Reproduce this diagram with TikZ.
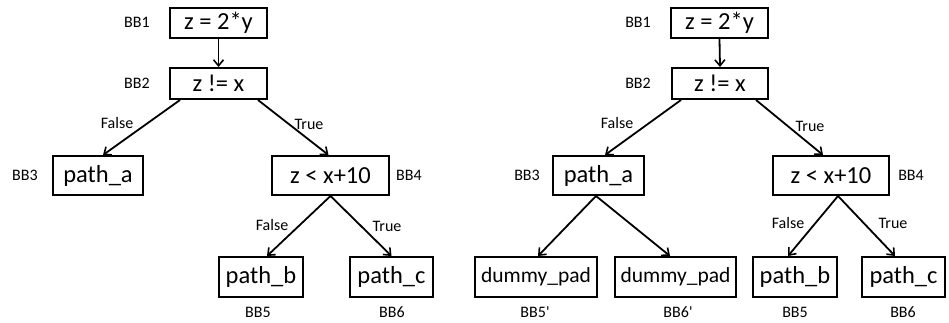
\documentclass[tikz,border=0pt]{standalone}
\usepackage{fontspec}
\setmainfont{Carlito}[Ligatures=TeXOff]
\usetikzlibrary{arrows.meta}
\begin{document}
\begin{tikzpicture}[x=1pt,y=-1pt,
  blk/.style={draw,line width=2pt,inner sep=0pt,font=\fontsize{24.5}{26}\selectfont},
  dblk/.style={blk,font=\fontsize{21.5}{24}\selectfont},
  bb/.style={font=\fontsize{16}{18}\selectfont,inner sep=0pt},
  lbl/.style={font=\fontsize{16}{18}\selectfont,inner sep=0pt},
  arr/.style={line width=1.8pt,-{Straight Barb[length=6pt,width=10pt,line width=1.6pt]}}]
\useasboundingbox (0,0) rectangle (949,322);
% ---------- left tree ----------
\node[blk,minimum width=97pt,minimum height=30pt] (L1) at (218.5,23) {z = 2*y};
\node[blk,minimum width=97pt,minimum height=31pt] (L2) at (218.5,83.5) {z != x};
\node[blk,minimum width=90pt,minimum height=39pt] (L3) at (98,175.5) {path\_a};
\node[blk,minimum width=117pt,minimum height=39pt] (L4) at (330.5,175.5) {z < x+10};
\node[blk,minimum width=84pt,minimum height=40pt] (L5) at (261,277) {path\_b};
\node[blk,minimum width=83pt,minimum height=40pt] (L6) at (391.5,277) {path\_c};
\node[bb] (lb1) at (137,22) {BB1};
\node[bb] (lb2) at (137,83) {BB2};
\node[bb] (lb3) at (25,175) {BB3};
\node[bb] (lb4) at (409,175) {BB4};
\node[bb] (lb5) at (258,312) {BB5};
\node[bb] (lb6) at (392,312) {BB6};
\draw[arr] (L1.south) -- (L2.north);
\draw[arr] ([xshift=-38.5pt]L2.south) -- ([xshift=5pt]L3.north);
\draw[arr] ([xshift=39.5pt]L2.south) -- ([xshift=-2pt]L4.north);
\draw[arr] (L4.south) -- ([xshift=6pt]L5.north);
\draw[arr] (L4.south) -- (L6.north);
\node[lbl] (lf1) at (117,123) {False};
\node[lbl] (lt1) at (309,124) {True};
\node[lbl] (lf2) at (272,225) {False};
\node[lbl] (lt2) at (387,226) {True};
% ---------- right tree ----------
\node[blk,minimum width=97pt,minimum height=30pt] (R1) at (719.5,23) {z = 2*y};
\node[blk,minimum width=96pt,minimum height=31pt] (R2) at (720,83.5) {z != x};
\node[blk,minimum width=91pt,minimum height=39pt] (R3) at (598.5,175.5) {path\_a};
\node[blk,minimum width=116pt,minimum height=39pt] (R4) at (831,175.5) {z < x+10};
\node[dblk,minimum width=122pt,minimum height=40pt] (R5p) at (536,277) {dummy\_pad};
\node[dblk,minimum width=121pt,minimum height=40pt] (R6p) at (675.5,277) {dummy\_pad};
\node[blk,minimum width=84pt,minimum height=40pt] (R5) at (795,277) {path\_b};
\node[blk,minimum width=83pt,minimum height=40pt] (R6) at (903.5,277) {path\_c};
\node[bb] (rb1) at (638,22) {BB1};
\node[bb] (rb2) at (638,83) {BB2};
\node[bb] (rb3) at (527,175) {BB3};
\node[bb] (rb4) at (911,175) {BB4};
\node[bb] (rb5p) at (535,312) {BB5'};
\node[bb] (rb6p) at (678,312) {BB6'};
\node[bb] (rb5) at (795,312) {BB5};
\node[bb] (rb6) at (903,312) {BB6};
\draw[arr] (R1.south) -- (R2.north);
\draw[arr] ([xshift=-39pt]R2.south) -- ([xshift=6.5pt]R3.north);
\draw[arr] ([xshift=36pt]R2.south) -- ([xshift=-8pt]R4.north);
\draw[arr] ([xshift=-2.5pt]R3.south) -- ([xshift=2pt]R5p.north);
\draw[arr] ([xshift=-2.5pt]R3.south) -- ([xshift=-5.5pt]R6p.north);
\draw[arr] ([xshift=7pt]R4.south) -- ([xshift=-7pt]R5.north);
\draw[arr] ([xshift=7pt]R4.south) -- ([xshift=-8.5pt]R6.north);
\node[lbl] (rf1) at (617,123) {False};
\node[lbl] (rt1) at (810,126) {True};
\node[lbl] (rf2) at (788,223) {False};
\node[lbl] (rt2) at (893,223) {True};
\end{tikzpicture}
\end{document}
